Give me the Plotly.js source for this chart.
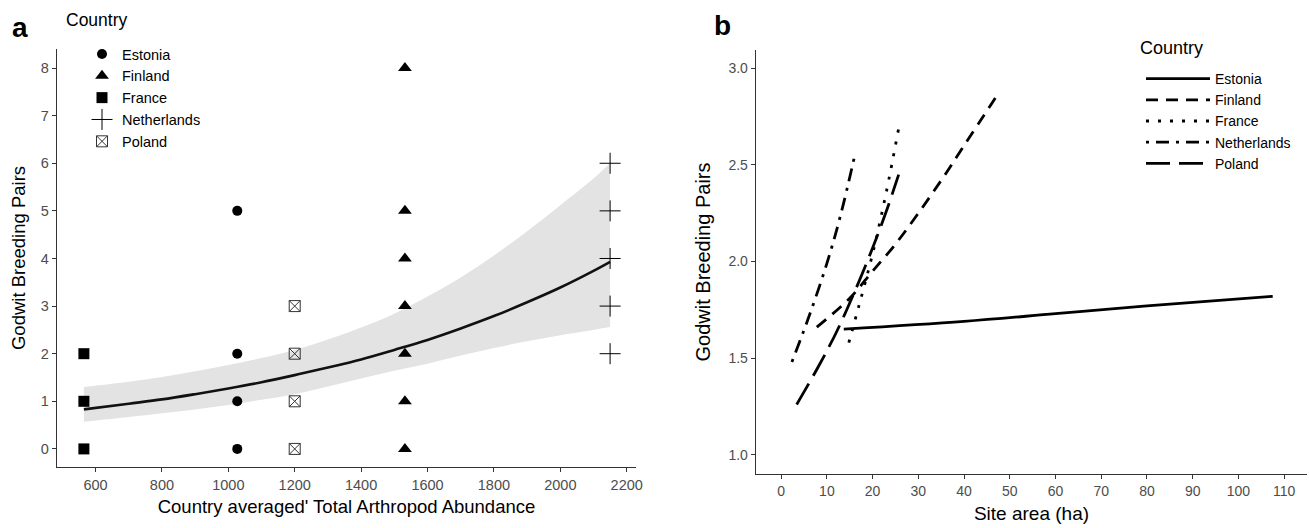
<!DOCTYPE html>
<html>
<head>
<meta charset="utf-8">
<script src="https://cdn.plot.ly/plotly-3.0.1.min.js"></script>
<style>html,body{margin:0;padding:0;background:#fff;}#chart{width:1309px;height:528px;}</style>
</head>
<body>
<div id="chart"></div>
<script>
// ---------- Panel a data ----------
const countries = ['Estonia', 'Finland', 'France', 'Netherlands', 'Poland'];
const countryAbundance = [1027, 1532, 565, 2150, 1200];
const pairsEstonia = [0, 1, 2, 5];
const pairsFinland = [0, 1, 2, 3, 4, 5, 8];
const pairsFrance = [0, 1, 2];
const pairsNetherlands = [2, 3, 4, 5, 6];
const pairsPoland = [0, 1, 2, 3];
const pairsByCountry = [pairsEstonia, pairsFinland, pairsFrance, pairsNetherlands, pairsPoland];

const fitX  = [565, 700, 800, 900, 1000, 1100, 1200, 1300, 1400, 1500, 1600, 1700, 1800, 1900, 2000, 2100, 2150];
const fitY  = [0.83, 0.95, 1.04, 1.15, 1.27, 1.40, 1.55, 1.71, 1.88, 2.08, 2.29, 2.53, 2.79, 3.08, 3.39, 3.74, 3.93];
const fitLo = [0.57, 0.67, 0.75, 0.83, 0.92, 1.03, 1.15, 1.31, 1.48, 1.64, 1.79, 1.96, 2.12, 2.26, 2.39, 2.50, 2.56];
const fitHi = [1.30, 1.41, 1.51, 1.63, 1.76, 1.91, 2.08, 2.30, 2.55, 2.84, 3.20, 3.60, 4.06, 4.57, 5.12, 5.68, 6.00];

const xTicksA = [600, 800, 1000, 1200, 1400, 1600, 1800, 2000, 2200];
const yTicksA = [0, 1, 2, 3, 4, 5, 6, 7, 8];

// ---------- Panel b data ----------
const areaEstonia = [13.7, 40, 60, 80, 107.5];
const predEstonia = [1.65, 1.69, 1.73, 1.77, 1.82];
const areaFinland = [7.8, 15, 20, 25, 30, 35, 40, 47.5];
const predFinland = [1.66, 1.81, 1.95, 2.09, 2.25, 2.42, 2.60, 2.87];
const areaFrance = [14.8, 17, 20, 23, 25.7];
const predFrance = [1.58, 1.77, 2.04, 2.36, 2.69];
const areaNetherlands = [2.35, 6, 10, 13, 16.2];
const predNetherlands = [1.48, 1.71, 1.99, 2.24, 2.56];
const areaPoland = [3.4, 8, 12, 16, 20, 23, 25.7];
const predPoland = [1.26, 1.45, 1.63, 1.84, 2.07, 2.26, 2.45];
const areaByCountry = [areaEstonia, areaFinland, areaFrance, areaNetherlands, areaPoland];
const predByCountry = [predEstonia, predFinland, predFrance, predNetherlands, predPoland];

const xTicksB = [0, 10, 20, 30, 40, 50, 60, 70, 80, 90, 100, 110];
const yTicksB = [1.0, 1.5, 2.0, 2.5, 3.0];

// ---------- styles ----------
const symbols = ['circle', 'triangle-up', 'square', 'cross-thin-open', 'square-x-open'];
const symSizes = [10, 12, 11, 15, 11];
const dashes = ['solid', '12px,8px', '3px,9px', '3px,7px,13px,7px', '24px,9px'];
const FONT = 'Liberation Sans, Arial, sans-serif';

const traces = [];
// confidence band
traces.push({x: fitX, y: fitLo, xaxis: 'x', yaxis: 'y', mode: 'lines', line: {width: 0, color: 'rgba(0,0,0,0)', shape: 'spline'}, showlegend: false, hoverinfo: 'skip'});
traces.push({x: fitX, y: fitHi, xaxis: 'x', yaxis: 'y', mode: 'lines', line: {width: 0, color: 'rgba(0,0,0,0)', shape: 'spline'}, fill: 'tonexty', fillcolor: '#e3e3e3', showlegend: false, hoverinfo: 'skip'});
// points
countries.forEach((c, i) => {
  const ys = pairsByCountry[i];
  traces.push({
    x: ys.map(() => countryAbundance[i]), y: ys, xaxis: 'x', yaxis: 'y', mode: 'markers', name: c,
    legend: 'legend',
    marker: {symbol: symbols[i], size: symSizes[i], color: i === 4 ? '#333' : '#000',
             line: {width: i >= 3 ? 1 : 0, color: i === 4 ? '#333' : '#222'}}
  });
});
// fitted curve
traces.push({x: fitX, y: fitY, xaxis: 'x', yaxis: 'y', mode: 'lines', line: {color: '#111', width: 2.6, shape: 'spline'}, showlegend: false});

// panel b lines
countries.forEach((c, i) => {
  traces.push({
    x: areaByCountry[i], y: predByCountry[i], xaxis: 'x2', yaxis: 'y2', mode: 'lines', name: c,
    legend: 'legend2', line: {color: '#000', width: 2.8, dash: dashes[i], shape: 'spline'}
  });
});

const W = 1309, H = 528;
const axisCommon = {
  showline: true, linecolor: '#333', linewidth: 1.3, ticks: 'outside', ticklen: 4, tickwidth: 1, tickcolor: '#333',
  showgrid: false, zeroline: false, mirror: false, tickmode: 'array', fixedrange: true
};

const layout = {
  width: W, height: H, margin: {l: 0, r: 0, t: 0, b: 0},
  paper_bgcolor: '#fff', plot_bgcolor: '#fff',
  font: {family: FONT, color: '#000'},
  showlegend: true,
  xaxis: Object.assign({}, axisCommon, {
    domain: [57 / W, 636 / W], range: [484, 2228], tickvals: xTicksA, ticktext: xTicksA.map(String),
    tickfont: {size: 14.5, color: '#4d4d4d', family: FONT}, anchor: 'y',
    title: {text: "Country averaged' Total Arthropod Abundance", font: {size: 18.5, color: '#000', family: FONT}, standoff: 8}
  }),
  yaxis: Object.assign({}, axisCommon, {
    domain: [(H - 467) / H, (H - 49) / H], range: [-0.38, 8.4], tickvals: yTicksA, ticktext: yTicksA.map(String),
    tickfont: {size: 14.5, color: '#4d4d4d', family: FONT}, anchor: 'x',
    title: {text: 'Godwit Breeding Pairs', font: {size: 18.5, color: '#000', family: FONT}, standoff: 10}
  }),
  xaxis2: Object.assign({}, axisCommon, {
    domain: [756 / W, 1307 / W], range: [-5.5, 115], tickvals: xTicksB, ticktext: xTicksB.map(String),
    tickfont: {size: 14, color: '#4d4d4d', family: FONT}, anchor: 'y2',
    title: {text: 'Site area (ha)', font: {size: 19, color: '#000', family: FONT}, standoff: 8}
  }),
  yaxis2: Object.assign({}, axisCommon, {
    domain: [(H - 474) / H, (H - 50) / H], range: [0.9, 3.095], tickvals: yTicksB, ticktext: yTicksB.map(v => v.toFixed(1)),
    tickfont: {size: 14, color: '#4d4d4d', family: FONT}, anchor: 'x2',
    title: {text: 'Godwit Breeding Pairs', font: {size: 20, color: '#000', family: FONT}, standoff: 12}
  }),
  legend: {
    x: 82 / W, y: (H - 38) / H, xanchor: 'left', yanchor: 'top', bgcolor: 'rgba(0,0,0,0)', traceorder: 'normal',
    font: {size: 14.5, family: FONT, color: '#000'}, itemwidth: 30, tracegroupgap: 0
  },
  legend2: {
    x: 1141 / W, y: (H - 63) / H, xanchor: 'left', yanchor: 'top', bgcolor: 'rgba(0,0,0,0)', traceorder: 'normal',
    font: {size: 14, family: FONT, color: '#000'}, itemwidth: 64, tracegroupgap: 0
  },
  annotations: [
    {text: '<b>a</b>', x: 20 / W, y: (H - 28) / H, xref: 'paper', yref: 'paper', xanchor: 'center', yanchor: 'middle', showarrow: false, font: {size: 28, family: FONT, color: '#000'}},
    {text: '<b>b</b>', x: 723 / W, y: (H - 26) / H, xref: 'paper', yref: 'paper', xanchor: 'center', yanchor: 'middle', showarrow: false, font: {size: 28, family: FONT, color: '#000'}},
    {text: 'Country', x: 64 / W, y: (H - 20) / H, xref: 'paper', yref: 'paper', xanchor: 'left', yanchor: 'middle', showarrow: false, font: {size: 17.5, family: FONT, color: '#000'}},
    {text: 'Country', x: 1138 / W, y: (H - 48) / H, xref: 'paper', yref: 'paper', xanchor: 'left', yanchor: 'middle', showarrow: false, font: {size: 18, family: FONT, color: '#000'}}
  ]
};

Plotly.newPlot('chart', traces, layout, {displayModeBar: false, staticPlot: true});
</script>
</body>
</html>
